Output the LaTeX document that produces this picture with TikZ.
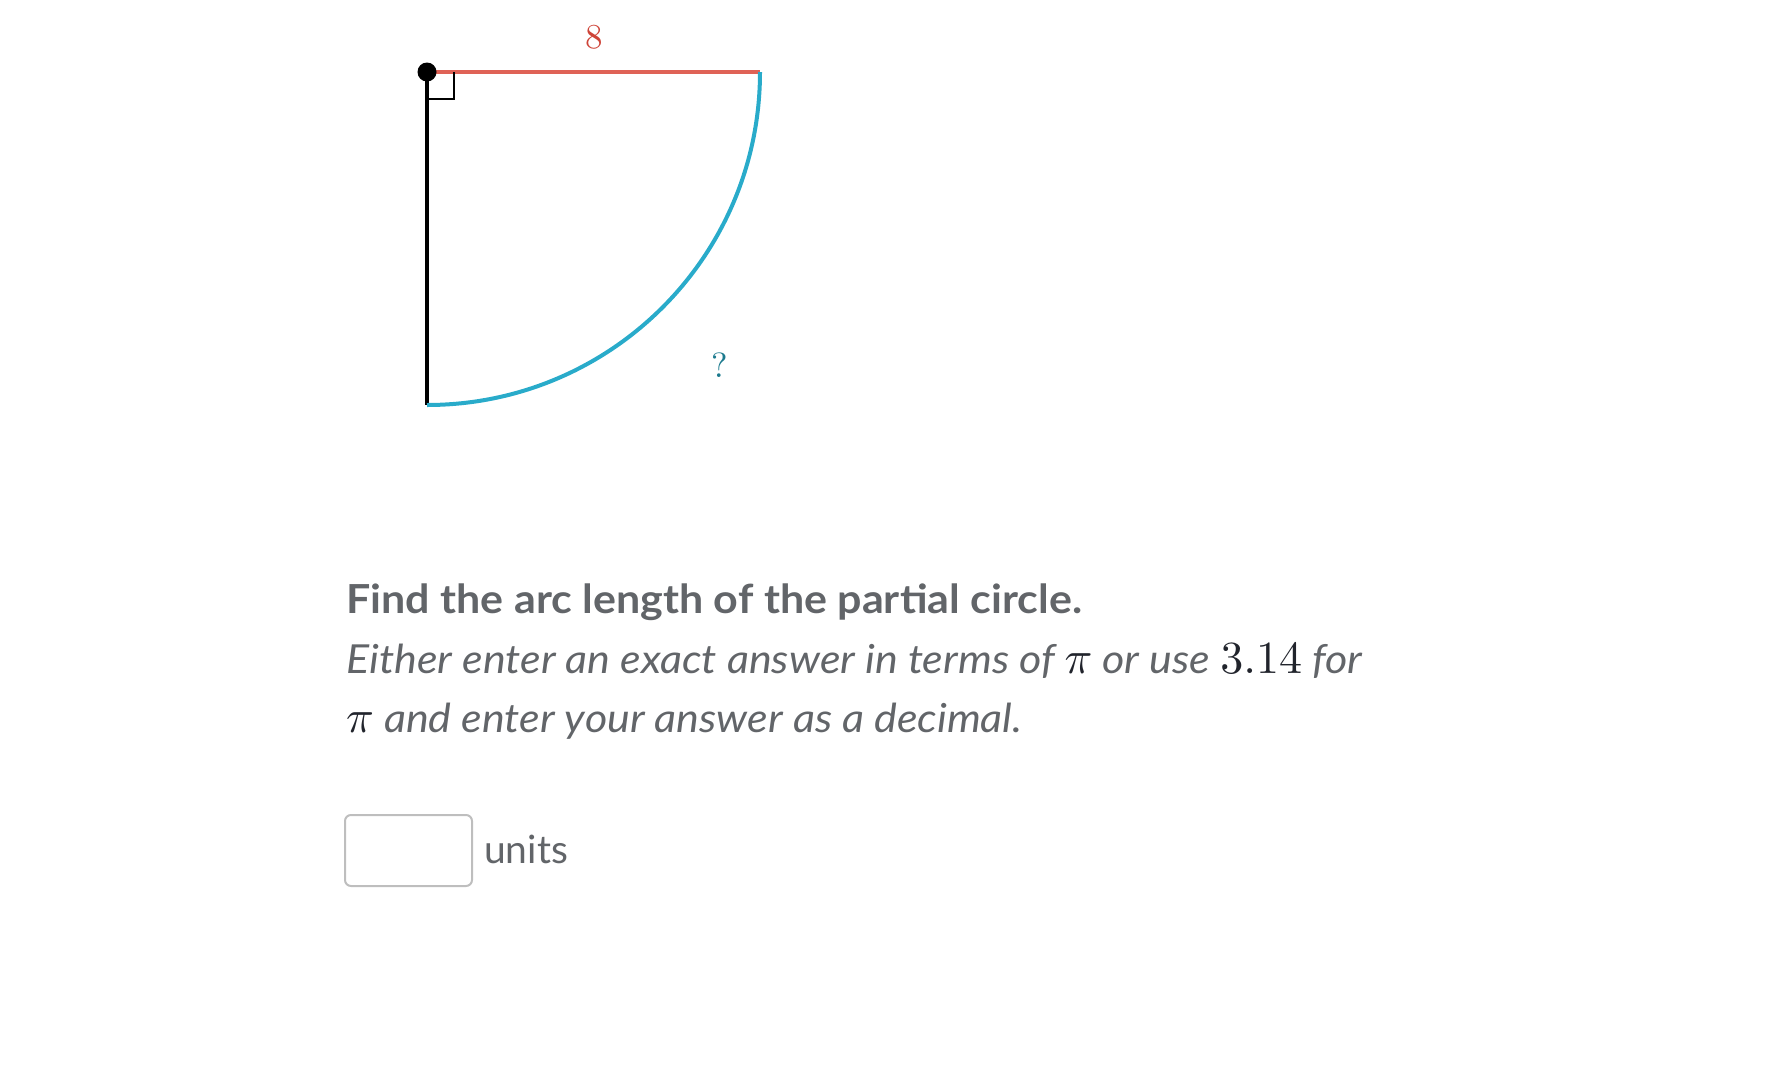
\documentclass[tikz,border=0pt]{standalone}
\usepackage{graphicx}
\usepackage{fontspec}
\newfontfamily\uifont[FakeStretch=1.075]{Lato}
\newfontfamily\unitfont{Lato}
\usetikzlibrary{positioning}
\definecolor{textgray}{RGB}{98,101,105}
\definecolor{mathink}{RGB}{33,36,44}
\definecolor{radiusred}{RGB}{223,98,86}
\definecolor{labelred}{RGB}{206,68,56}
\definecolor{arcblue}{RGB}{41,171,202}
\definecolor{labelteal}{RGB}{28,122,142}
\definecolor{boxgray}{RGB}{190,190,190}
\newcommand{\bigmath}[1]{{\color{mathink}\scalebox{4.6}{\normalsize$#1$}}}
\newcommand{\biglabel}[1]{\scalebox{3.5}{\normalsize #1}}
\tikzset{
	radiusline/.style={line width=4pt, radiusred},
	sideline/.style={line width=3.5pt, black},
	arcline/.style={line width=4pt, arcblue},
	rightmark/.style={line width=2.4pt, black},
	centerdot/.style={circle, fill=black, inner sep=0pt, minimum size=19pt},
	prompt/.style={anchor=base west, inner sep=0pt, textgray},
	answerbox/.style={draw=boxgray, line width=2pt, rounded corners=6pt,
		minimum width=127pt, minimum height=71pt, inner sep=0pt},
}

\begin{document}
\begin{tikzpicture}[x=1pt, y=1pt]
	\useasboundingbox (0,0) rectangle (1782,-1079);

	\coordinate (O) at (427,-72);
	\coordinate (A) at (760,-72);
	\coordinate (B) at (427,-405);

	\draw[radiusline] (O) -- (A);
	\draw[sideline] (O) -- (B);
	\draw[arcline] (A) arc[start angle=0, end angle=-90, radius=333];
	\draw[rightmark] (427,-99) -- (454,-99) -- (454,-72);
	\node[centerdot] (dot) at (O) {};

	\node[labelred] (eight) at (594,-37) {\biglabel{8}};
	\node[labelteal] (qmark) at (720,-365) {\biglabel{?}};

	\node[prompt, font=\uifont\bfseries\fontsize{40pt}{44pt}\selectfont] (title) at (346,-613)
		{Find the arc length of the partial circle.};
	\node[prompt, font=\uifont\itshape\fontsize{40pt}{44pt}\selectfont] (hint1) at (346,-673)
		{Either enter an exact answer in terms of \bigmath{\pi} or use \bigmath{3.14} for};
	\node[prompt, font=\uifont\itshape\fontsize{40pt}{44pt}\selectfont] (hint2) at (346,-732)
		{\bigmath{\pi} and enter your answer as a decimal.};

	\node[answerbox] (box) at (408.5,-850.5) {};
	\node[prompt, font=\unitfont\fontsize{39pt}{44pt}\selectfont] (units) at (484,-863) {units};
\end{tikzpicture}
\end{document}
